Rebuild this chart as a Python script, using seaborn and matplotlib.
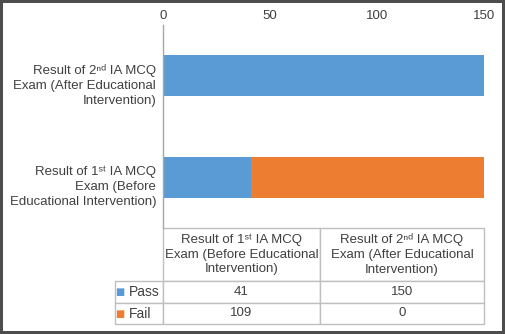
import matplotlib
matplotlib.use('Agg')
import matplotlib.pyplot as plt
import matplotlib.transforms as mtrans
import seaborn as sns
import pandas as pd

# data
exam_keys = ['first', 'second']
axis_labels = ['Result of 1ˢᵗ IA MCQ\nExam (Before\nEducational Intervention)',
               'Result of 2ⁿᵈ IA MCQ\nExam (After Educational\nIntervention)']
table_headers = ['Result of 1ˢᵗ IA MCQ\nExam (Before Educational\nIntervention)',
                 'Result of 2ⁿᵈ IA MCQ\nExam (After Educational\nIntervention)']
pass_counts = [41, 150]
fail_counts = [109, 0]
series_names = ['Pass', 'Fail']
x_ticks = [0, 50, 100, 150]

blue = '#5B9BD5'
orange = '#ED7D31'
txt = '#404040'
grid_col = '#bfbfbf'

sns.set_style('white')
plt.rcParams['font.family'] = ['Liberation Sans', 'DejaVu Sans']

df = pd.DataFrame({'exam': exam_keys, 'Pass': pass_counts, 'Fail': fail_counts})
df['Total'] = df['Pass'] + df['Fail']
order = ['second', 'first']

fig = plt.figure(figsize=(5.05, 3.34), dpi=100)
ax = fig.add_axes([163 / 505, 1 - 228 / 334, 321 / 505, 203 / 334])

# stacked bars: total (fail colour) under pass
sns.barplot(data=df, x='Total', y='exam', order=order, color=orange, width=0.4,
            saturation=1, orient='h', ax=ax, linewidth=0)
sns.barplot(data=df, x='Pass', y='exam', order=order, color=blue, width=0.4,
            saturation=1, orient='h', ax=ax, linewidth=0)

ax.set_xlim(0, 150)
ax.set_ylim(1.5, -0.5)
ax.set_xticks(x_ticks)
ax.xaxis.tick_top()
ax.set_yticks([0, 1])
ax.set_yticklabels([axis_labels[exam_keys.index(k)] for k in order])
ax.set_xlabel('')
ax.set_ylabel('')
ax.tick_params(axis='x', length=0, pad=2, labelsize=9.5, labelcolor=txt)
ax.tick_params(axis='y', length=0, pad=5, labelsize=9.5, labelcolor=txt)
shift = mtrans.ScaledTranslation(0, -6.5 / 100, fig.dpi_scale_trans)
for lab in ax.get_yticklabels():
    lab.set_linespacing(1.35)
    lab.set_transform(lab.get_transform() + shift)
for s in ['top', 'right', 'bottom']:
    ax.spines[s].set_visible(False)
ax.spines['left'].set_color('#a6a6a6')
ax.spines['left'].set_linewidth(1)

# data table under the chart
cell_text = [[str(v) for v in pass_counts], [str(v) for v in fail_counts]]
tbl = ax.table(cellText=cell_text, rowLabels=series_names, colLabels=table_headers,
               cellLoc='center', rowLoc='left', colLoc='center',
               bbox=[0, -96 / 203, 1, 96 / 203])
tbl.auto_set_font_size(False)
tbl.set_fontsize(9.5)
col_w = [157, 164]
row_h = [53, 22, 21]
for (r, c), cell in tbl.get_celld().items():
    cell.set_edgecolor(grid_col)
    cell.set_linewidth(1)
    cell.get_text().set_color(txt)
    cell.get_text().set_linespacing(1.3)
    cell.set_height(row_h[r])
    if c == -1:
        cell.set_width(72)
        cell.PAD = 0.28
        cell.get_text().set_fontsize(10)
    else:
        cell.set_width(col_w[c])

fig.canvas.draw()
# legend keys in the row label cells
for i, colr in enumerate([blue, orange]):
    cell = tbl.get_celld()[(i + 1, -1)]
    ax.text(cell.get_x() + cell.get_width() * 0.1, cell.get_y() + cell.get_height() / 2,
            '■', color=colr, fontsize=7, ha='left', va='center',
            family=['DejaVu Sans'], transform=ax.transAxes, clip_on=False)

fig.patch.set_edgecolor('#4d4d4d')
fig.patch.set_linewidth(3)
fig.savefig('out.png', dpi=100)
